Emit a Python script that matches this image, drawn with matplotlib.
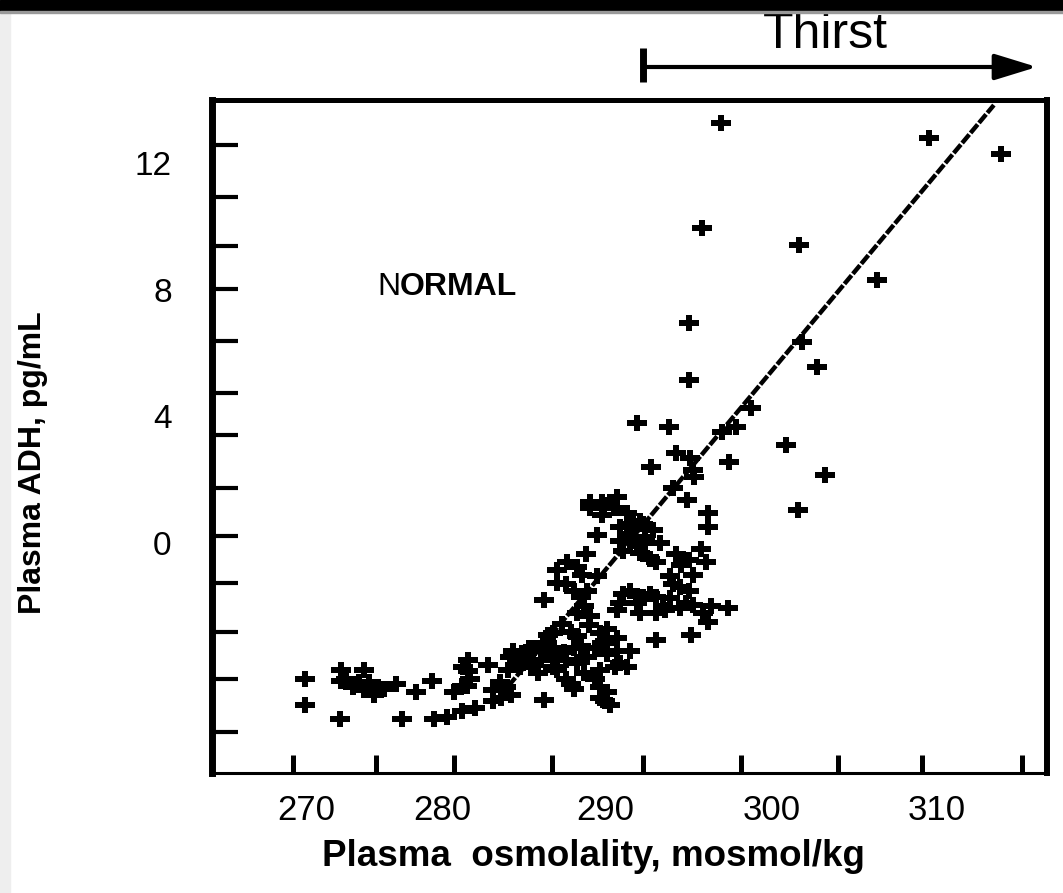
import numpy as np
import matplotlib
matplotlib.use("Agg")
import matplotlib.pyplot as plt
from matplotlib.path import Path
from matplotlib.patches import Rectangle
from matplotlib.transforms import blended_transform_factory

plt.rcParams['font.family'] = ['Liberation Sans', 'DejaVu Sans']

# plasma osmolality (mosmol/kg) and plasma ADH (pg/mL)
osm = [296.9, 309.5, 313.9, 295.75, 301.65, 306.35, 294.95, 294.95, 302.75, 301.8,
       298.7, 291.8, 293.75, 297.0, 297.8, 300.85, 292.65, 297.4, 303.2, 294.2,
       295.05, 295.2, 295.3, 301.6, 294.85, 296.1, 296.1,
       294.0, 289.7, 290.6, 290.4, 291.2, 292.2, 292.8, 289.4, 290.8, 291.6,
       291.0, 292.0, 288.7, 288.2, 287.0, 287.0, 289.4, 293.0, 294.2, 295.0,
       296.0, 293.8, 294.4, 291.4, 292.2, 293.0, 293.8, 295.2, 294.4, 290.6,
       288.4, 286.2, 297.35, 296.1, 295.1, 293.0, 288.2, 287.3, 286.7, 288.2,
       289.6, 290.6, 289.8, 290.6, 285.1, 286.1, 287.4, 288.4, 285.5, 286.7,
       288.2, 290.8, 289.6, 287.8, 289.6, 289.6, 290.2, 286.2,
       271.7, 271.7, 273.9, 275.3, 273.9, 274.6, 275.3, 276.1, 275.9, 277.2,
       278.4, 279.4, 280.7, 281.6, 281.6, 281.5, 282.8, 283.1, 283.1, 283.9,
       284.1, 284.9, 273.8, 277.6, 279.5, 280.3, 281.2, 282.0,
       285.3, 286.3, 286.7, 284.7,
       # dense part of the cloud
       289.0, 289.8, 291.5, 292.3, 291.8, 292.6, 293.2, 291.2, 292.0,
       294.5, 295.2, 294.0, 295.0, 294.8, 293.5, 295.8, 296.3, 295.7,
       291.0, 291.8, 292.6, 293.4, 290.8, 292.0, 293.0,
       287.6, 288.5, 287.5, 288.0, 288.8, 288.6, 288.9, 289.0,
       285.3, 286.0, 286.8, 287.5, 288.0, 288.8, 289.3, 290.0, 290.5, 287.0,
       285.8, 288.6, 289.9, 291.2, 286.4, 287.8, 290.0, 291.4,
       287.5, 288.0, 289.3, 290.0, 289.9,
       281.3, 281.7, 281.2, 283.5, 284.2, 283.6, 284.3, 285.0, 285.6, 284.0,
       274.2, 275.0, 276.5, 275.6, 289.0, 289.7, 290.8, 291.6, 292.3]
adh = [13.25, 12.8, 12.3, 9.95, 9.4, 8.3, 6.95, 5.15, 5.55, 6.35,
       4.25, 3.8, 3.65, 3.5, 3.65, 3.1, 2.4, 2.55, 2.15, 2.85,
       2.7, 2.3, 2.1, 1.05, 1.35, 0.95, 0.5,
       1.75, 1.3, 1.45, 1.1, 0.95, 0.6, 0.4, 0.25, 0.05, 0.2,
       -0.25, -0.3, -0.35, -0.75, -0.85, -1.25, -1.05, -0.6, -0.35, -0.55,
       -0.6, -1.05, -1.4, -1.5, -1.7, -1.7, -1.75, -1.95, -2.05, -2.1,
       -1.7, -1.8, -2.05, -2.5, -2.9, -3.05, -2.2, -2.55, -2.85, -2.95,
       -2.85, -3.0, -3.15, -3.4, -3.45, -3.15, -3.45, -3.25, -3.8, -3.9,
       -3.8, -3.8, -4.0, -4.45, -4.55, -4.9, -5.1, -4.95,
       -4.3, -5.1, -4.0, -4.0, -4.35, -4.55, -4.65, -4.55, -4.8, -4.45,
       -4.7, -4.35, -4.7, -3.7, -4.05, -4.5, -3.85, -4.65, -5.0, -4.55,
       -3.6, -3.8, -5.55, -5.55, -5.55, -5.5, -5.3, -5.2,
       -3.4, -3.4, -3.5, -3.9,
       1.1, 1.2, 0.5, 0.2, -0.1, -0.5, 0.0, 0.3, 0.7,
       -0.7, -1.0, -1.3, -1.5, -1.9, -2.1, -2.2, -2.0, -0.2,
       -1.6, -1.9, -1.6, -2.0, -1.9, -2.2, -2.2,
       -0.6, -1.0, -1.3, -1.5, -1.5, -2.0, -2.6, -2.3,
       -3.3, -3.7, -3.3, -3.7, -3.3, -3.6, -3.3, -3.5, -3.9, -4.0,
       -4.1, -4.1, -3.1, -3.9, -2.9, -2.8, -2.7, -3.4,
       -4.3, -4.6, -4.3, -4.7, -5.0,
       -3.9, -4.3, -4.5, -4.4, -4.8, -4.9, -3.4, -3.7, -3.3, -4.0,
       -4.3, -4.4, -4.6, -4.4, 1.3, 0.9, 0.5, 0.6, 0.0]

# regression line
line_osm = [283.5, 313.45]
line_adh = [-4.84, 13.83]

# axis labels and where they sit
x_labels = ['270', '280', '290', '300', '310']
x_label_pos = [271.8, 280, 289.9, 300, 310]
x_tick_pos = [270.97, 276.0, 280.73, 286.67, 292.18, 298.12, 304.0, 309.09, 315.15]
y_labels = ['12', '8', '4', '0']
y_label_pos = [12, 8, 4, 0]
y_tick_pos = [12.57, 10.93, 9.38, 8.02, 6.38, 4.74, 3.41, 1.74, 0.22, -1.26,
              -2.81, -4.29, -5.97]

thirst_start = 292.2

# plus marker, wider than tall
t, tv, h = 0.34, 0.34, 0.75
plus = Path([(-1, -t), (-tv, -t), (-tv, -h), (tv, -h), (tv, -t), (1, -t), (1, t),
             (tv, t), (tv, h), (-tv, h), (-tv, t), (-1, t), (-1, -t)],
            [Path.MOVETO] + [Path.LINETO] * 11 + [Path.CLOSEPOLY])

fig = plt.figure(figsize=(10.63, 8.93), dpi=100)
ax = fig.add_axes([212 / 1063, 1 - 773 / 893, (1047 - 212) / 1063, (773 - 100) / 893])

ax.plot(line_osm, line_adh, color='black', lw=3.2, ls=(0, (2.5, 0.45)), zorder=2)
ax.plot(osm, adh, ls='none', marker=plus, markersize=14.5, color='black',
        markeredgewidth=0, zorder=3)

ax.set_xlim(266.06, 316.67)
ax.set_ylim(-7.26, 13.99)

ax.set_xticks(x_label_pos)
ax.set_xticklabels(x_labels, fontsize=25)
ax.set_xticks(x_tick_pos, minor=True)
ax.set_yticks(y_label_pos)
ax.set_yticklabels(y_labels, fontsize=24)
ax.set_yticks(y_tick_pos, minor=True)
ax.tick_params(axis='x', which='major', length=0, pad=15)
ax.tick_params(axis='y', which='major', length=0, pad=29)
ax.tick_params(axis='x', which='minor', direction='in', length=13, width=3.6)
ax.tick_params(axis='y', which='minor', direction='in', length=19, width=3)

ax.spines['left'].set_linewidth(5)
ax.spines['right'].set_linewidth(4.3)
ax.spines['top'].set_linewidth(3.6)
ax.spines['bottom'].set_linewidth(2.2)

fig.text(593 / 1063, 1 - 857 / 893, 'Plasma  osmolality, mosmol/kg', fontsize=26.5,
         fontweight='bold', ha='center', va='center')
fig.text(33 / 1063, 1 - 463 / 893, 'Plasma ADH, pg/mL', fontsize=23,
         fontweight='bold', rotation=90, ha='center', va='center')

n_txt = ax.text(276.06, 8.08, 'N', fontsize=23, ha='left', va='center')
ax.annotate('ORMAL', xy=(1, 0), xycoords=n_txt, fontsize=23, fontweight='bold',
            ha='left', va='bottom')

# Thirst bar above the plot
tr = blended_transform_factory(ax.transData, fig.transFigure)
ax.annotate('', xy=(316.06, 1 - 67 / 893), xytext=(thirst_start, 1 - 67 / 893),
            xycoords=tr, textcoords=tr,
            arrowprops=dict(arrowstyle='-|>,head_length=1.3,head_width=0.4',
                            lw=3, color='black', mutation_scale=20,
                            shrinkA=0, shrinkB=0))
ax.plot([thirst_start, thirst_start], [1 - 48 / 893, 1 - 82 / 893], transform=tr,
        color='black', lw=5, clip_on=False, solid_capstyle='butt')
fig.text(825 / 1063, 1 - 35 / 893, 'Thirst', fontsize=36, ha='center', va='center')

# frame of the slide
fig.add_artist(Rectangle((0, 1 - 11 / 893), 1, 11 / 893, transform=fig.transFigure,
                         color='black', zorder=10))
fig.add_artist(Rectangle((0, 1 - 13 / 893), 1, 2 / 893, transform=fig.transFigure,
                         color='#999999', zorder=10))
fig.add_artist(Rectangle((0, 0), 10 / 1063, 1, transform=fig.transFigure,
                         color='#eeeeee', zorder=0))

fig.savefig('out.png', dpi=100)
